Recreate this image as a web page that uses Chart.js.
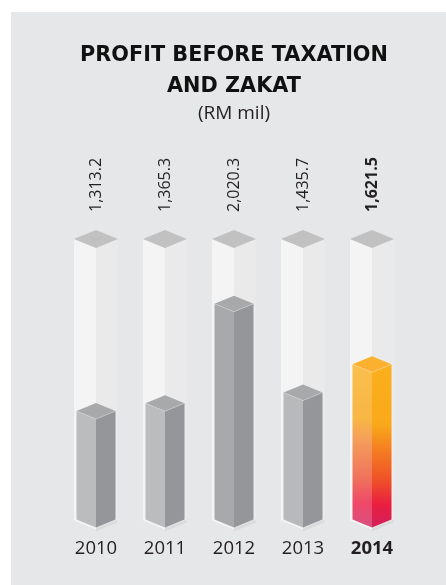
<!DOCTYPE html>
<html>
<head>
<meta charset="utf-8">
<script src="https://cdn.jsdelivr.net/npm/chart.js@4.4.1/dist/chart.umd.min.js"></script>
<style>
  html, body { margin: 0; padding: 0; background: #ffffff; }
  canvas { display: block; }
</style>
</head>
<body>
<canvas id="pbtChart" width="446" height="585"></canvas>
<script>
const years = ['2010', '2011', '2012', '2013', '2014'];
const profit = [1313.2, 1365.3, 2020.3, 1435.7, 1621.5];
const titleLines = ['PROFIT BEFORE TAXATION', 'AND ZAKAT'];
const unitLabel = '(RM mil)';
const axisMin = 600;
const axisMax = 2440;

// face colours of the grey columns (left face varies a little)
const greyLeft = ['#bbbcbe', '#bbbcbe', '#a8a9ab', '#b8b9bb'];
const greyRight = '#95969a';
const greyTop = '#a8a9ab';

const slope = 0.41; // how much the top diamond drops per px of half width

function fmt(v) {
    return v.toLocaleString('en-US', { minimumFractionDigits: 1, maximumFractionDigits: 1 });
}

function prism(ctx, x, y, base, hw, left, right, top) {
    let dy = hw * slope;
    // left face
    ctx.fillStyle = left;
    ctx.beginPath();
    ctx.moveTo(x - hw, y - dy);
    ctx.lineTo(x, y);
    ctx.lineTo(x, base);
    ctx.lineTo(x - hw, base - dy);
    ctx.closePath();
    ctx.fill();
    // right face
    ctx.fillStyle = right;
    ctx.beginPath();
    ctx.moveTo(x + hw, y - dy);
    ctx.lineTo(x, y);
    ctx.lineTo(x, base);
    ctx.lineTo(x + hw, base - dy);
    ctx.closePath();
    ctx.fill();
    // top
    ctx.fillStyle = top;
    ctx.beginPath();
    ctx.moveTo(x, y);
    ctx.lineTo(x - hw, y - dy);
    ctx.lineTo(x, y - 2 * dy);
    ctx.lineTo(x + hw, y - dy);
    ctx.closePath();
    ctx.fill();
}

const panelPlugin = {
    id: 'panel',
    beforeDraw(chart) {
        let ctx = chart.ctx;
        ctx.save();
        ctx.fillStyle = '#e6e7e8';
        ctx.fillRect(11, 12, chart.width - 11, chart.height - 12);
        ctx.restore();
    }
};

const columnsPlugin = {
    id: 'columns',
    beforeDatasetsDraw(chart) {
        let ctx = chart.ctx;
        let meta = chart.getDatasetMeta(0);
        let yScale = chart.scales.y;
        ctx.save();
        meta.data.forEach(function (bar, i) {
            let p = bar.getProps(['x', 'y', 'base', 'width'], true);
            let hw = p.width / 2;
            let tw = hw * 44 / 39;
            let top = yScale.getPixelForValue(axisMax);

            // empty track behind the column
            prism(ctx, p.x, top, p.base + 2, tw, '#f4f4f4', '#eaeaeb', '#c1c1c2');

            // soft shadow at the foot
            ctx.fillStyle = 'rgba(0,0,0,0.05)';
            ctx.beginPath();
            ctx.moveTo(p.x, p.base);
            ctx.lineTo(p.x + hw + 2, p.base - hw * slope);
            ctx.lineTo(p.x + hw + 2, p.base - hw * slope + 3);
            ctx.lineTo(p.x, p.base + 4);
            ctx.closePath();
            ctx.fill();

            let left, right, cap;
            if (i === profit.length - 1) {
                let g1 = ctx.createLinearGradient(0, p.y - 2 * hw * slope, 0, p.base);
                g1.addColorStop(0, '#fbc04f');
                g1.addColorStop(0.37, '#f8b643');
                g1.addColorStop(0.48, '#f4a05a');
                g1.addColorStop(0.72, '#f0705c');
                g1.addColorStop(0.86, '#ee4868');
                g1.addColorStop(1, '#d9507f');
                let g2 = ctx.createLinearGradient(0, p.y - 2 * hw * slope, 0, p.base);
                g2.addColorStop(0, '#fbb11d');
                g2.addColorStop(0.4, '#f9a81a');
                g2.addColorStop(0.55, '#f47d22');
                g2.addColorStop(0.72, '#ef5228');
                g2.addColorStop(0.87, '#e91e40');
                g2.addColorStop(1, '#d2215a');
                left = g1;
                right = g2;
                cap = '#fbb030';
            } else {
                left = greyLeft[i];
                right = greyRight;
                cap = greyTop;
            }
            prism(ctx, p.x, p.y, p.base, hw, left, right, cap);

            // faint highlight on the front edges of the cap
            ctx.strokeStyle = 'rgba(255,255,255,0.3)';
            ctx.lineWidth = 0.8;
            ctx.beginPath();
            ctx.moveTo(p.x - hw, p.y - hw * slope);
            ctx.lineTo(p.x, p.y);
            ctx.lineTo(p.x + hw, p.y - hw * slope);
            ctx.stroke();

            // value label, rotated, above the track
            ctx.save();
            ctx.translate(p.x, top - 36);
            ctx.rotate(-Math.PI / 2);
            ctx.fillStyle = '#231f20';
            ctx.font = (i === profit.length - 1 ? 'bold ' : '') + '16px "Open Sans"';
            ctx.textAlign = 'left';
            ctx.textBaseline = 'middle';
            ctx.fillText(fmt(profit[i]), 0, 0);
            ctx.restore();
        });
        ctx.restore();
    }
};

let ctx = document.getElementById('pbtChart').getContext('2d');

let pbtChart = new Chart(ctx, {
    type: 'bar',
    data: {
        labels: years,
        datasets: [{
            label: 'Profit before taxation and zakat',
            data: profit,
            base: axisMin,
            backgroundColor: 'rgba(0,0,0,0)',
            borderWidth: 0,
            categoryPercentage: 1,
            barPercentage: 0.565
        }]
    },
    options: {
        responsive: false,
        animation: false,
        events: [],
        layout: {
            padding: { left: 61.5, right: 39.5, top: 0, bottom: 15.4 }
        },
        plugins: {
            legend: { display: false },
            tooltip: { enabled: false },
            title: {
                display: true,
                text: titleLines,
                fullSize: false,
                color: '#111111',
                font: { family: '"DejaVu Sans"', size: 20.8, weight: 'bold', lineHeight: '31px' },
                padding: { top: 40.5, bottom: 0 }
            },
            subtitle: {
                display: true,
                text: unitLabel,
                fullSize: false,
                color: '#231f20',
                font: { family: '"Open Sans"', size: 19, weight: 'normal', lineHeight: 1.2 },
                padding: { top: 0, bottom: 122.7 }
            }
        },
        scales: {
            x: {
                grid: { display: false, drawTicks: false, tickLength: 0 },
                border: { display: false },
                ticks: {
                    padding: 10,
                    color: '#231f20',
                    font: function (c) {
                        return {
                            family: '"Open Sans"',
                            size: 18.5,
                            weight: c.index === years.length - 1 ? 'bold' : 'normal'
                        };
                    }
                }
            },
            y: {
                display: false,
                min: axisMin,
                max: axisMax
            }
        }
    },
    plugins: [panelPlugin, columnsPlugin]
});
</script>
</body>
</html>
